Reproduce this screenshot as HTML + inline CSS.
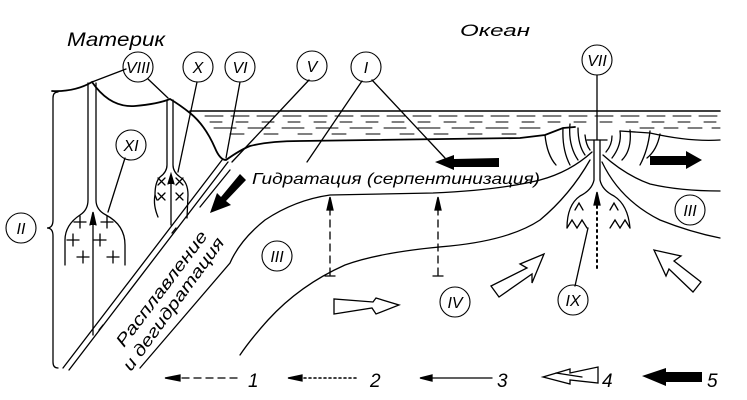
<!DOCTYPE html>
<html><head><meta charset="utf-8"><style>
html,body{margin:0;padding:0;background:#fff;}
svg{display:block;}
text{font-family:"Liberation Sans","DejaVu Sans",sans-serif;font-style:italic;fill:#000;}
</style></head><body>
<svg width="747" height="400" viewBox="0 0 747 400" xmlns="http://www.w3.org/2000/svg">
<g fill="none" stroke="#000" stroke-width="1.3" stroke-linecap="round">
<line x1="190" y1="111" x2="720" y2="111" stroke-width="1.6"/>
<g stroke-width="1" stroke-dasharray="18 8">
<line x1="205" y1="116" x2="720" y2="116"/>
<line x1="210" y1="122" x2="720" y2="122" stroke-dasharray="12 14"/>
<line x1="214" y1="128" x2="540" y2="128" stroke-dasharray="22 12"/>
<line x1="230" y1="134" x2="520" y2="134" stroke-dasharray="14 20"/>
<line x1="640" y1="128" x2="720" y2="128" stroke-dasharray="14 10"/>
</g>
<path d="M52,91 Q75,92 92,82 Q110,108 135,106 Q158,104 170,99 Q180,105 190,113 Q205,125 215,148 Q220,160 226,160 Q240,150 250,146 Q270,141 300,141 L520,138 L545,135 L563,128 L575,127" stroke-width="1.8"/>
<path d="M620,131 L650,133 Q690,142 720,140"/>
<path d="M545,135 Q547,155 556,165 M563,128 Q562,150 570,165 M570,124 Q568,145 578,160 M578,128 Q578,145 585,155 M585,135 Q586,145 590,150"/>
<path d="M612,136 Q612,145 606,152 M620,131 Q622,145 612,158 M630,130 Q632,150 622,160 M650,131 Q648,150 640,165 M660,134 Q657,150 647,158"/>
<path d="M594,140 L594,180 Q592,190 580,196 Q567,205 567,228"/>
<path d="M600,140 L600,180 Q602,190 614,196 Q628,205 630,228"/>
<path d="M567,228 L572,220 L577,228 L582,220 L587,228 M610,228 L615,220 L620,228 L625,220 L630,228"/>
<path d="M575,210 L579,203 L583,210 M610,210 L614,203 L618,210"/>
<line x1="587" y1="140" x2="607" y2="140"/>
<path d="M592,152 Q570,172 540,180 Q500,190 433,193 L330,195 Q295,200 265,220 Q240,240 230,263 L140,368"/>
<path d="M590,160 Q570,195 540,220 Q510,240 450,246 Q380,252 345,265 Q300,285 268,320 Q250,340 240,355"/>
<path d="M603,155 Q625,175 650,184 Q680,191 720,191"/>
<path d="M602,162 Q620,200 660,220 Q690,232 720,238"/>
<line x1="200" y1="207" x2="230" y2="170"/>
<line x1="222" y1="160" x2="63" y2="368"/>
<line x1="228" y1="162" x2="69" y2="370"/>
<line x1="176" y1="228" x2="172" y2="233"/>
<line x1="103" y1="325" x2="99" y2="330"/>
<path d="M167,100 L167,165 Q167,172 160,177 Q155,182 155,195 L157,200"/>
<path d="M173,100 L173,165 Q173,172 180,177 Q188,182 188,195 L187,218"/>
<path d="M155,195 Q153,205 158,217"/>
<line x1="171" y1="225" x2="171" y2="176"/>
<path d="M168,184 L171,174 L174,184" fill="#000"/>
<path d="M158,178 l7,7 m0,-7 l-7,7 M176,178 l7,7 m0,-7 l-7,7 M158,193 l7,7 m0,-7 l-7,7 M176,193 l7,7 m0,-7 l-7,7"/>
<path d="M88,83 L88,200 Q88,210 80,215 Q65,225 65,240 L65,265"/>
<path d="M96,83 L96,200 Q96,210 106,215 Q125,225 125,245 L125,265"/>
<line x1="93" y1="335" x2="93" y2="215"/>
<path d="M90,225 L93,212 L96,225" fill="#000"/>
<path d="M74,222 h12 M80,216 v12 M101,222 h12 M107,216 v12 M67,240 h12 M73,234 v12 M94,240 h12 M100,234 v12 M77,257 h12 M83,251 v12 M107,257 h12 M113,251 v12"/>
<path d="M58,92 Q53,92 53,98 L53,220 Q53,228 47,228 Q53,228 53,236 L53,362 Q53,368 58,368"/>
<path d="M126,69 L92,82 M148,79 L168,98 M197,82 L178,172 M240,82 L226,158 M309,80 L232,162 M362,81 L307,162 M372,80 L445,158 M597,75 L597,140 M125,158 L108,212 M575,286 L588,228"/>
<g stroke-width="1.1">
<circle cx="138" cy="67" r="15"/><circle cx="198" cy="67" r="15"/><circle cx="240" cy="67" r="15"/>
<circle cx="312" cy="66" r="15"/><circle cx="366" cy="67" r="15"/><circle cx="597" cy="60" r="15"/>
<circle cx="131" cy="145" r="15"/><circle cx="21" cy="228" r="15"/><circle cx="277" cy="256" r="15"/>
<circle cx="690" cy="210" r="15"/><circle cx="455" cy="302" r="15"/><circle cx="573" cy="300" r="15"/>
</g>
<g stroke-dasharray="7 5"><line x1="330" y1="275" x2="330" y2="205"/><line x1="438" y1="275" x2="438" y2="205"/></g>
<path d="M325,276 h10 M433,276 h10"/>
<path d="M327,210 L330,197 L333,210 Z M435,210 L438,197 L441,210 Z" fill="#000"/>
<line x1="597" y1="268" x2="597" y2="205" stroke-dasharray="2 4" stroke-width="2"/>
<path d="M594,205 L597,192 L600,205 Z" fill="#000"/>
<path d="M334,299 L334,314 L372,308 L376,314 L399,305 L376,298 L373,302 Z"/>
<path d="M491,286 L499,297 L532,274 L532,283 L544,254 L520,264 L527,268 Z"/>
<path d="M701,282 L693,292 L669,269 L666,276 L654,250 L681,256 L674,261 Z"/>
<line x1="237" y1="378" x2="172" y2="378" stroke-dasharray="7 5"/>
<path d="M180,375 L165,378 L180,381 Z" fill="#000"/>
<line x1="356" y1="378" x2="297" y2="378" stroke-dasharray="2 3" stroke-width="1.6"/>
<path d="M302,375 L288,378 L302,381 Z" fill="#000"/>
<line x1="492" y1="378" x2="428" y2="378"/>
<path d="M432,375 L420,378 L432,381 Z" fill="#000"/>
<path d="M543,377 L570,369 L570,373 L598,367 L598,383 L570,380 L570,384 Z"/>
<path d="M556,373 L582,377"/>
</g>
<g fill="#000" stroke="none">
<path d="M642,376 L666,368 L666,372 L702,372 L702,382 L666,382 L666,386 Z"/>
<path d="M435,162 L454,155 L454,159 L499,158 L499,167 L454,167 L454,170 Z"/>
<path d="M650,156 L686,156 L686,151 L702,160 L686,169 L686,165 L650,165 Z"/>
<path d="M240,174 L246,180 L226,201 L231,205 L210,213 L217,193 L221,197 Z"/>
</g>
<text x="67" y="46" font-size="19" textLength="98" lengthAdjust="spacingAndGlyphs">Материк</text>
<text x="460" y="36" font-size="17" textLength="70" lengthAdjust="spacingAndGlyphs">Океан</text>
<text x="252" y="184" font-size="16" textLength="288" lengthAdjust="spacingAndGlyphs">Гидратация (серпентинизация)</text>
<text transform="translate(124,348) rotate(-53)" font-size="17" textLength="140" lengthAdjust="spacingAndGlyphs">Расплавление</text>
<text transform="translate(131,372) rotate(-54)" font-size="17" textLength="160" lengthAdjust="spacingAndGlyphs">и дегидратация</text>
<g font-size="16" text-anchor="middle">
<text x="138" y="73">VIII</text><text x="198" y="73">X</text><text x="240" y="73">VI</text>
<text x="312" y="72">V</text><text x="366" y="73">I</text><text x="597" y="66">VII</text>
<text x="131" y="151">XI</text><text x="21" y="234">II</text><text x="277" y="262">III</text>
<text x="690" y="216">III</text><text x="455" y="308">IV</text><text x="573" y="306">IX</text>
</g>
<g font-size="19">
<text x="248" y="387">1</text><text x="370" y="387">2</text><text x="497" y="387">3</text>
<text x="602" y="387">4</text><text x="707" y="387">5</text>
</g>
</svg>
</body></html>
